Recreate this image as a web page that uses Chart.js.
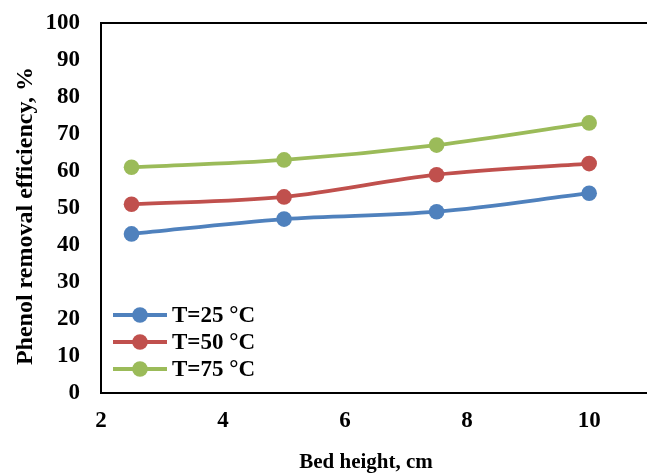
<!DOCTYPE html>
<html>
<head>
<meta charset="utf-8">
<script src="https://cdn.jsdelivr.net/npm/chart.js@4.4.0/dist/chart.umd.min.js"></script>
<style>
  html, body { margin: 0; padding: 0; background: #fff; overflow: hidden; }
</style>
</head>
<body>
<canvas id="chart" width="647" height="474"></canvas>
<script>
// bed height, cm
var bedHeight = [2.5, 5, 7.5, 10];
// removal efficiency, %
var eff25 = [43, 47, 49, 54];
var eff50 = [51, 53, 59, 62];
var eff75 = [61, 63, 67, 73];
var seriesNames = ["T=25 °C", "T=50 °C", "T=75 °C"];
var seriesColors = ["#4F81BD", "#C0504D", "#9BBB59"];
var xTicks = [2, 4, 6, 8, 10];
var yTicks = [0, 10, 20, 30, 40, 50, 60, 70, 80, 90, 100];

var FONT = "'Liberation Serif', 'Times New Roman', serif";

function toPoints(vals) {
  return bedHeight.map(function (x, i) { return { x: x, y: vals[i] }; });
}

function makeSet(idx, vals) {
  return {
    label: seriesNames[idx],
    data: toPoints(vals),
    borderColor: seriesColors[idx],
    backgroundColor: seriesColors[idx],
    borderWidth: 3.8,
    pointRadius: 7.8,
    pointHoverRadius: 7.8,
    pointBorderWidth: 0,
    tension: 0.3,
    cubicInterpolationMode: "monotone"
  };
}

// frame (the right side is cut off), legend inside the plot, axis titles
var extras = {
  id: "extras",
  afterDraw: function (chart) {
    var ctx = chart.ctx;
    var a = chart.chartArea;
    ctx.save();
    ctx.strokeStyle = "#000";
    ctx.lineWidth = 2;
    ctx.beginPath();
    ctx.moveTo(chart.width, a.top);
    ctx.lineTo(a.left, a.top);
    ctx.lineTo(a.left, a.bottom);
    ctx.lineTo(chart.width, a.bottom);
    ctx.stroke();

    // legend
    ctx.font = "bold 23px " + FONT;
    ctx.textBaseline = "middle";
    ctx.textAlign = "left";
    chart.data.datasets.forEach(function (ds, i) {
      var y = 315 + i * 27;
      ctx.strokeStyle = ds.borderColor;
      ctx.lineWidth = 3.8;
      ctx.beginPath();
      ctx.moveTo(113, y);
      ctx.lineTo(167, y);
      ctx.stroke();
      ctx.fillStyle = ds.borderColor;
      ctx.beginPath();
      ctx.arc(140, y, 7.8, 0, Math.PI * 2);
      ctx.fill();
      ctx.fillStyle = "#000";
      ctx.fillText(ds.label, 172, y + 1);
    });

    // x title
    ctx.font = "bold 21px " + FONT;
    ctx.textAlign = "center";
    ctx.fillText("Bed height, cm", 366, 463);

    // y title
    ctx.translate(26, 216);
    ctx.rotate(-Math.PI / 2);
    ctx.font = "bold 24px " + FONT;
    ctx.fillText("Phenol removal efficiency, %", 0, 0);
    ctx.restore();
  }
};

new Chart(document.getElementById("chart"), {
  type: "line",
  data: {
    datasets: [makeSet(0, eff25), makeSet(1, eff50), makeSet(2, eff75)]
  },
  plugins: [extras],
  options: {
    responsive: false,
    animation: false,
    layout: { padding: { top: 23, right: 0, left: 0, bottom: 0 } },
    plugins: {
      legend: { display: false },
      tooltip: { enabled: false }
    },
    scales: {
      x: {
        type: "linear",
        min: 2,
        max: 10.82,
        afterBuildTicks: function (s) { s.ticks = xTicks.map(function (v) { return { value: v }; }); },
        grid: { display: false, drawTicks: false },
        border: { display: false },
        ticks: {
          color: "#000",
          padding: 14,
          font: { family: FONT, size: 23, weight: "bold" }
        },
        afterFit: function (s) { s.height = 81; s.paddingLeft = 0; s.paddingRight = 0; }
      },
      y: {
        min: 0,
        max: 100,
        afterBuildTicks: function (s) { s.ticks = yTicks.map(function (v) { return { value: v }; }); },
        grid: { display: false, drawTicks: false },
        border: { display: false },
        ticks: {
          color: "#000",
          padding: 21,
          font: { family: FONT, size: 23, weight: "bold" }
        },
        afterFit: function (s) { s.width = 101; s.paddingTop = 0; s.paddingBottom = 0; }
      }
    }
  }
});
</script>
</body>
</html>
